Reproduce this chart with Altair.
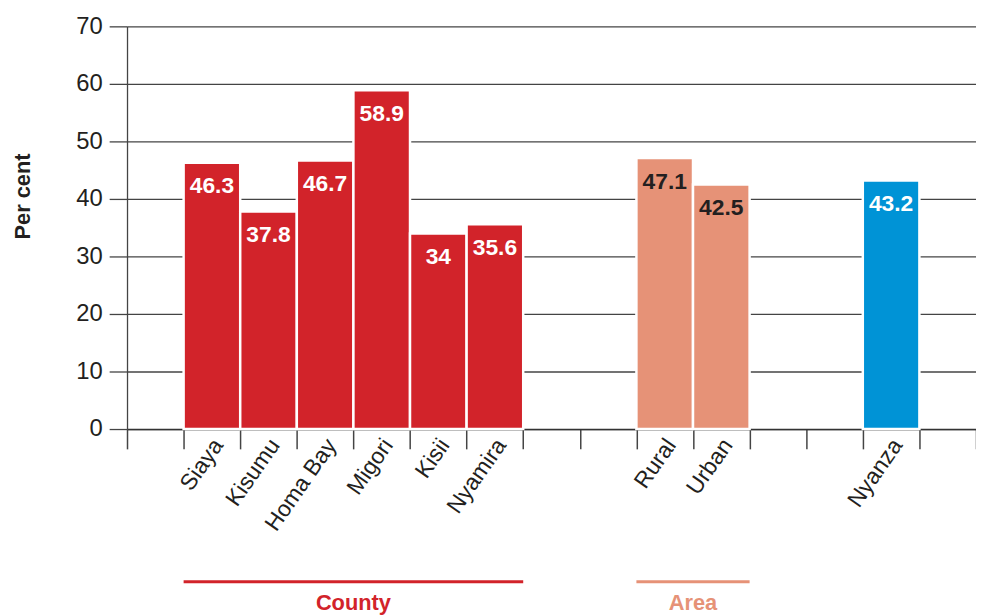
import altair as alt
import pandas as pd

counties = ["Siaya", "Kisumu", "Homa Bay", "Migori", "Kisii", "Nyamira"]
county_values = [46.3, 37.8, 46.7, 58.9, 34, 35.6]
areas = ["Rural", "Urban"]
area_values = [47.1, 42.5]
regions = ["Nyanza"]
region_values = [43.2]

# slot order along the x axis (empty slots are spacers)
slots = ["_0"] + counties + ["_1", "_2"] + areas + ["_3", "_4"] + regions + ["_5"]

RED = "#D2232A"
SALMON = "#E69277"
BLUE = "#0093D6"
DARK = "#231f20"
FONT = "Liberation Sans"

df = pd.DataFrame({
    "category": counties + areas + regions,
    "value": county_values + area_values + region_values,
    "group": ["County"] * len(counties) + ["Area"] * len(areas) + ["Region"] * len(regions),
})

groups_df = pd.DataFrame({
    "group": ["County", "Area"],
    "start": [counties[0], areas[0]],
    "end": [counties[-1], areas[-1]],
    "mid": [counties[3], areas[1]],
})

W = 856
H = 406
xscale = alt.Scale(domain=slots, paddingInner=0, paddingOuter=0)
yscale = alt.Scale(domain=[0, 70], nice=False)

base = alt.Chart(df)

bars = base.mark_bar(stroke="white", strokeWidth=2.5).encode(
    x=alt.X("category:N", scale=xscale, title=None,
            axis=alt.Axis(
                tickBand="extent", tickSize=20, tickColor="#444444", tickWidth=1.5,
                domainColor="#333333", domainWidth=1.5,
                labelAngle=305, labelAlign="right", labelBaseline="middle",
                labelFontSize=23, labelFont=FONT, labelColor=DARK,
                labelPadding=-8, labelOffset=6,
                labelExpr="indexof(datum.label, '_') == 0 ? '' : datum.label",
                grid=False)),
    y=alt.Y("value:Q", scale=yscale, title="Per cent",
            axis=alt.Axis(
                values=[0, 10, 20, 30, 40, 50, 60, 70],
                grid=True, gridColor="#444444", gridWidth=1.3,
                tickSize=18, tickColor="#444444", tickWidth=1.3,
                domainColor="#444444", domainWidth=1.3,
                labelFontSize=24, labelFont=FONT, labelColor=DARK, labelPadding=7,
                titleFont=FONT, titleFontSize=22, titleFontWeight="bold", titleColor=DARK,
                titleAngle=270, titleX=-105, titleY=171, titleAlign="center",
                titleBaseline="middle")),
    color=alt.Color("group:N",
                    scale=alt.Scale(domain=["County", "Area", "Region"], range=[RED, SALMON, BLUE]),
                    legend=None),
)

labels = base.mark_text(font=FONT, fontSize=23, fontWeight="bold", baseline="middle", dy=24).encode(
    x=alt.X("category:N", scale=xscale),
    y=alt.Y("value:Q", scale=yscale),
    text=alt.Text("value:Q"),
    color=alt.Color("group:N",
                    scale=alt.Scale(domain=["County", "Area", "Region"], range=["white", DARK, "white"]),
                    legend=None),
)

gbase = alt.Chart(groups_df)
group_rules = gbase.mark_rule(strokeWidth=3).encode(
    x=alt.X("start:N", scale=xscale, bandPosition=0),
    x2=alt.X2("end:N", bandPosition=1),
    y=alt.value(560),
    color=alt.Color("group:N", scale=alt.Scale(domain=["County", "Area"], range=[RED, SALMON]), legend=None),
)
group_text = gbase.mark_text(font=FONT, fontSize=22, fontWeight="bold", baseline="middle").encode(
    x=alt.X("mid:N", scale=xscale, bandPosition=0),
    y=alt.value(581),
    text="group:N",
    color=alt.Color("group:N", scale=alt.Scale(domain=["County", "Area"], range=[RED, SALMON]), legend=None),
)

chart = alt.layer(bars, labels, group_rules, group_text).resolve_scale(
    color="independent"
).properties(
    width=W,
    height=H,
    autosize=alt.AutoSizeParams(type="none"),
    padding={"left": 120, "top": 16, "right": 0, "bottom": 185},
).configure_view(stroke=None).configure_axis(labelLimit=300)

chart.save("out.html", embed_options={"renderer": "svg", "actions": False})
